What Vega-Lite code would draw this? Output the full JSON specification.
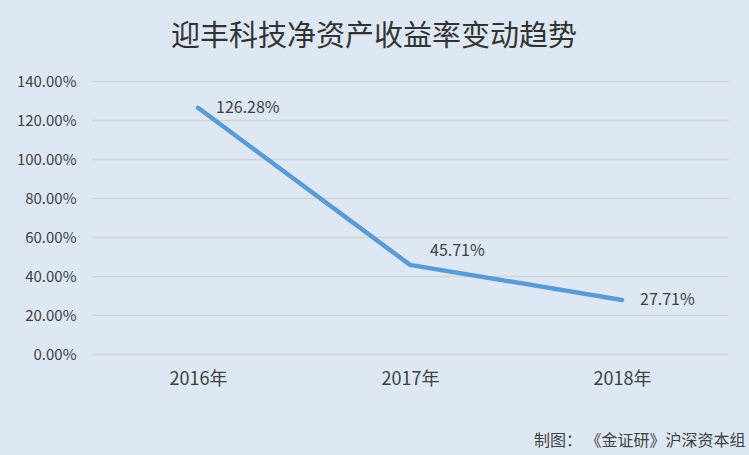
{
  "$schema": "https://vega.github.io/schema/vega-lite/v6.json",
  "width": 636,
  "height": 273,
  "autosize": "none",
  "padding": {"left": 92, "top": 81, "right": 21, "bottom": 101},
  "background": "#dee8f4",
  "config": {"view": {"stroke": null}, "font": "Noto Sans CJK SC"},
  "title": {
    "text": "迎丰科技净资产收益率变动趋势",
    "fontSize": 29,
    "fontWeight": "normal",
    "color": "#333333",
    "anchor": "middle",
    "dx": -36,
    "offset": 22,
    "font": "Noto Sans CJK SC"
  },
  "data": {
    "values": [
      {"year": "2016年", "roe": 126.28, "label": "126.28%"},
      {"year": "2017年", "roe": 45.71, "label": "45.71%"},
      {"year": "2018年", "roe": 27.71, "label": "27.71%"}
    ]
  },
  "encoding": {
    "x": {
      "field": "year",
      "type": "ordinal",
      "scale": {"paddingInner": 0, "paddingOuter": 0},
      "axis": {
        "labelAngle": 0,
        "labelFontSize": 18,
        "labelColor": "#404040",
        "labelPadding": 16,
        "ticks": false,
        "domain": false,
        "title": "制图：  《金证研》沪深资本组",
        "titleFontSize": 16,
        "titleFontWeight": "normal",
        "titleColor": "#404040",
        "titleAnchor": "end",
        "titleAlign": "right",
        "titleBaseline": "middle",
        "titleX": 653,
        "titleY": 86
      }
    },
    "y": {
      "field": "roe",
      "type": "quantitative",
      "scale": {"domain": [0, 140]},
      "axis": {
        "values": [0, 20, 40, 60, 80, 100, 120, 140],
        "labelExpr": "format(datum.value, '.2f') + '%'",
        "labelFontSize": 15,
        "labelColor": "#404040",
        "labelPadding": 16,
        "ticks": false,
        "domain": false,
        "grid": true,
        "gridColor": "#d4d4d4",
        "gridWidth": 1.5,
        "title": null
      }
    }
  },
  "layer": [
    {
      "mark": {"type": "line", "color": "#5b9bd5", "strokeWidth": 4.5, "strokeCap": "round"}
    },
    {
      "transform": [{"filter": "datum.year == '2017年'"}],
      "mark": {"type": "text", "align": "left", "baseline": "middle", "dx": 20, "dy": -14, "fontSize": 16, "color": "#404040"},
      "encoding": {"text": {"field": "label"}}
    },
    {
      "transform": [{"filter": "datum.year != '2017年'"}],
      "mark": {"type": "text", "align": "left", "baseline": "middle", "dx": 18, "dy": 0, "fontSize": 16, "color": "#404040"},
      "encoding": {"text": {"field": "label"}}
    }
  ]
}
